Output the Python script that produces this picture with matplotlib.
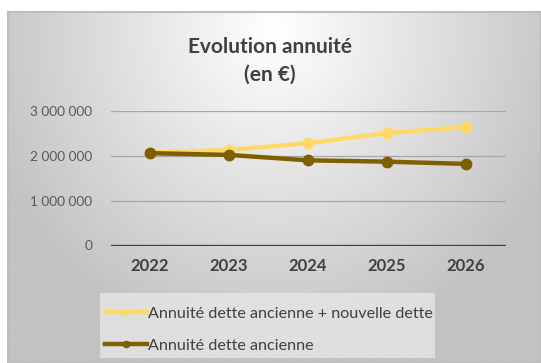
import numpy as np
import matplotlib.pyplot as plt
from matplotlib.patches import Rectangle

years = ['2022', '2023', '2024', '2025', '2026']
annuite_totale = [2070000, 2130000, 2280000, 2510000, 2640000]
annuite_ancienne = [2060000, 2020000, 1900000, 1870000, 1820000]
y_ticks = [0, 1000000, 2000000, 3000000]
y_tick_labels = ['0', '1 000 000', '2 000 000', '3 000 000']

FONT = ['Lato', 'DejaVu Sans']
W, H = 541, 363

fig = plt.figure(figsize=(W / 100, H / 100), dpi=100)

# chart area background: radial grey gradient, lighter near the title
bg = fig.add_axes([0, 0, 1, 1], zorder=0)
bg.set_xlim(0, W)
bg.set_ylim(H, 0)
bg.axis('off')
x0, y0 = 8, 12
gx, gy = np.meshgrid(np.linspace(x0, W, 300), np.linspace(y0, H, 200))
r = np.sqrt(((gx - 275) / 320) ** 2 + ((gy - 30) / 340) ** 2)
shade = np.clip(1.0 - 0.25 * r, 0.76, 1.0)
bg.imshow(shade, cmap='gray', vmin=0, vmax=1, extent=(x0, W, H, y0),
          aspect='auto', interpolation='bilinear')
bg.add_patch(Rectangle((x0, y0), W - x0, H - y0, fill=False,
                       edgecolor='#bdbdbd', linewidth=1.5))

# legend box
bg.add_patch(Rectangle((100, 293), 335, 65, facecolor='#e6e6e6',
                       edgecolor='none', alpha=0.8))

ax = fig.add_axes([110.5 / W, (H - 245.5) / H, 395 / W, 134.5 / H], zorder=1)
ax.patch.set_alpha(0)
xs = np.arange(len(years))

ax.plot(xs, annuite_totale, color='#ffd966', lw=3.2, marker='o', ms=7.5,
        label='Annuité dette ancienne + nouvelle dette', zorder=3)
ax.plot(xs, annuite_ancienne, color='#7f6000', lw=3.2, marker='o', ms=7.5,
        label='Annuité dette ancienne', zorder=4)

ax.set_xlim(-0.5, len(years) - 0.5)
ax.set_ylim(0, 3000000)
ax.set_xticks(xs)
ax.set_xticklabels(years, fontsize=12, fontweight='bold', color='#404040',
                   family=FONT)
ax.set_yticks(y_ticks)
ax.set_yticklabels(y_tick_labels, fontsize=9.8, color='#595959', family=FONT)
ax.tick_params(axis='both', length=0)
ax.tick_params(axis='x', pad=9)
ax.tick_params(axis='y', pad=13)
for v in y_ticks[1:]:
    ax.axhline(v, color='#a6a6a6', lw=0.9, zorder=1)
ax.axhline(0, color='#404040', lw=2.4, zorder=2)
for s in ax.spines.values():
    s.set_visible(False)

fig.text(270 / W, 1 - 47 / H, 'Evolution annuité', ha='center', va='center',
         fontsize=15, fontweight='bold', color='#404040', family=FONT)
fig.text(270 / W, 1 - 75 / H, '(en €)', ha='center', va='center',
         fontsize=15, fontweight='bold', color='#404040', family=FONT)

leg = fig.legend(loc='upper left', bbox_to_anchor=(103 / W, 1 - 305 / H),
                 frameon=False, prop={'family': FONT, 'size': 11.6},
                 labelcolor='#404040', handlelength=2.6, handletextpad=0.1,
                 borderpad=0.1, borderaxespad=0, labelspacing=1.1,
                 markerscale=0.6)

fig.savefig('out.png', dpi=100)
